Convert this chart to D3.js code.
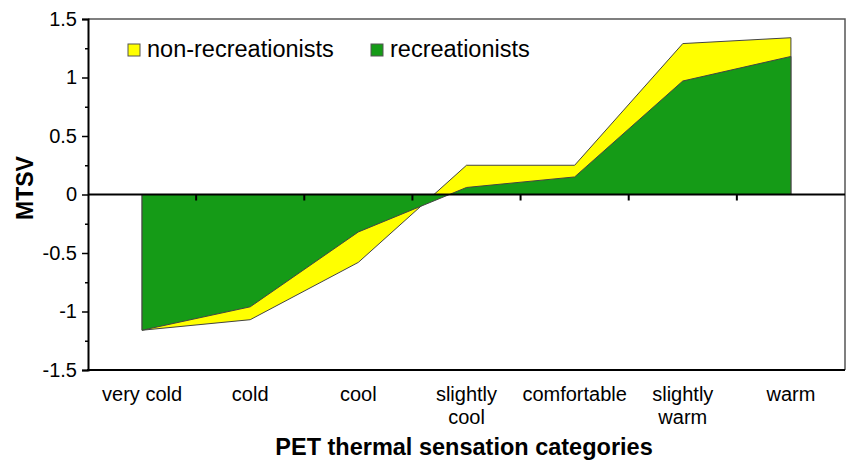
<!doctype html>
<html lang="en">
<head>
<meta charset="UTF-8">
<script src="https://d3js.org/d3.v7.min.js"></script>
<style>
body {
  margin: 0;
  background: #fff;
  font-family: "Liberation Sans", Arial, sans-serif;
}
.area {
  stroke: #444;
  stroke-width: 1;
  stroke-linejoin: round;
}
.ylab text { font-size: 20px; fill: #000; }
.xlab text { font-size: 20px; fill: #000; }
</style>
<title></title>
</head>
<body>
<div id="main"></div>
<script>
'use strict';

// categories along x (second line after '|')
var categories = ['very cold', 'cold', 'cool', 'slightly|cool', 'comfortable', 'slightly|warm', 'warm'];
// mean thermal sensation votes
var nonRecreationists = [-1.16, -1.07, -0.58, 0.25, 0.25, 1.29, 1.34];
var recreationists    = [-1.16, -0.96, -0.32, 0.06, 0.15, 0.97, 1.18];
var yTicks = [-1.5, -1, -0.5, 0, 0.5, 1, 1.5];
var seriesNames = ['non-recreationists', 'recreationists'];
var seriesColors = ['#ffff00', '#159b17'];

var width = 846, height = 463;
var pLeft = 88, pRight = 845, pTop = 19, pBottom = 370;

var svg = d3.select('#main').append('svg')
  .attr('width', width)
  .attr('height', height);

var x = d3.scaleBand().domain(categories).range([pLeft, pRight]);
var y = d3.scaleLinear().domain([-1.5, 1.5]).range([pBottom, pTop]);

function cx(d, i) { return x(categories[i]) + x.bandwidth() / 2; }

// frame top/right
svg.append('path')
  .attr('d', 'M' + pLeft + ',' + pTop + 'H' + pRight + 'V' + pBottom)
  .attr('fill', 'none')
  .attr('stroke', '#555')
  .attr('stroke-width', 1.5);

// areas, non-recreationists behind
var area = d3.area()
  .x(cx)
  .y0(y(0))
  .y1(function(d) { return y(d); });

[nonRecreationists, recreationists].forEach(function(vals, k) {
  svg.append('path')
    .datum(vals)
    .attr('class', 'area')
    .attr('fill', seriesColors[k])
    .attr('d', area);
});

// left axis with minor ticks
var yAxis = svg.append('g')
  .attr('class', 'ylab')
  .attr('transform', 'translate(' + pLeft + ',0)')
  .call(d3.axisLeft(y).tickValues(yTicks).tickSize(6).tickPadding(5)
    .tickFormat(function(d) { return String(d); }));
yAxis.select('.domain').attr('stroke', '#000').attr('stroke-width', 2);
yAxis.selectAll('.tick line').attr('stroke', '#000').attr('stroke-width', 1.5);
yAxis.selectAll('text').attr('font-family', '"Liberation Sans", Arial, sans-serif');

svg.append('g')
  .attr('transform', 'translate(' + pLeft + ',0)')
  .call(d3.axisLeft(y).tickValues(d3.range(-1.25, 1.5, 0.5)).tickSize(3).tickFormat(''))
  .call(function(g) {
    g.select('.domain').remove();
    g.selectAll('line').attr('stroke', '#000').attr('stroke-width', 1.5);
  });

// zero line with category separators
svg.append('line')
  .attr('x1', pLeft).attr('x2', pRight)
  .attr('y1', y(0)).attr('y2', y(0))
  .attr('stroke', '#000')
  .attr('stroke-width', 2);

svg.selectAll('.sep')
  .data(categories.slice(1))
  .enter().append('line')
  .attr('class', 'sep')
  .attr('x1', function(d) { return x(d); })
  .attr('x2', function(d) { return x(d); })
  .attr('y1', y(0))
  .attr('y2', y(0) + 6)
  .attr('stroke', '#000')
  .attr('stroke-width', 2);

// bottom line
svg.append('line')
  .attr('x1', pLeft - 1).attr('x2', pRight)
  .attr('y1', pBottom).attr('y2', pBottom)
  .attr('stroke', '#000')
  .attr('stroke-width', 2);

// category labels
var xl = svg.append('g').attr('class', 'xlab');
categories.forEach(function(c, i) {
  var t = xl.append('text')
    .attr('text-anchor', 'middle')
    .attr('x', cx(c, i))
    .attr('y', 401);
  c.split('|').forEach(function(part, j) {
    t.append('tspan')
      .attr('x', cx(c, i))
      .attr('dy', j ? 23 : 0)
      .text(part);
  });
});

// axis titles
svg.append('text')
  .attr('x', 464)
  .attr('y', 455)
  .attr('text-anchor', 'middle')
  .attr('font-size', 23.5)
  .attr('font-weight', 'bold')
  .text('PET thermal sensation categories');

svg.append('text')
  .attr('transform', 'translate(33,188) rotate(-90)')
  .attr('text-anchor', 'middle')
  .attr('font-size', 23)
  .attr('font-weight', 'bold')
  .text('MTSV');

// legend
var legendX = [128, 371];
seriesNames.forEach(function(name, k) {
  var g = svg.append('g').attr('transform', 'translate(' + legendX[k] + ',44)');
  g.append('rect')
    .attr('width', 12).attr('height', 12)
    .attr('fill', seriesColors[k])
    .attr('stroke', '#555')
    .attr('stroke-width', 1);
  g.append('text')
    .attr('x', 19)
    .attr('y', 13)
    .attr('font-size', 23.5)
    .text(name);
});
</script>
</body>
</html>
